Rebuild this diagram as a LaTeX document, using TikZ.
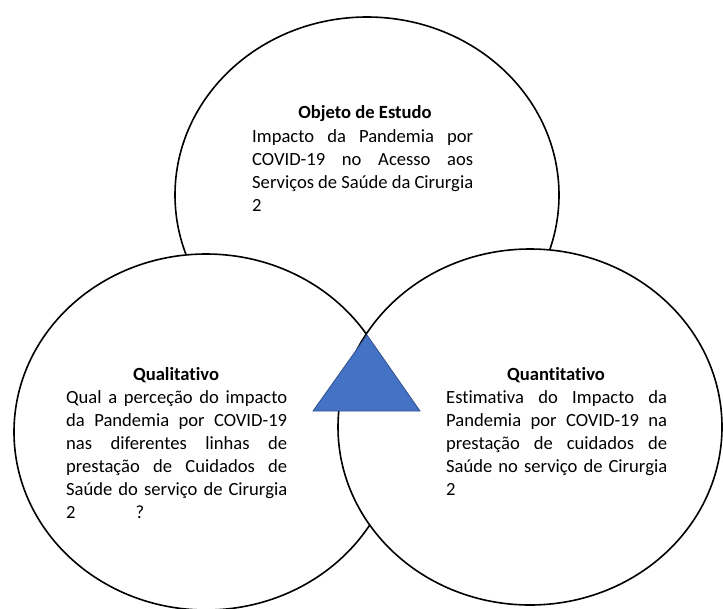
\documentclass[tikz,border=0pt]{standalone}
\usepackage{fontspec}
\setmainfont{Carlito}[Ligatures=NoCommon]
\definecolor{triblue}{HTML}{4472C4}
\definecolor{triedge}{HTML}{2F528F}
\begin{document}
\begin{tikzpicture}[x=1pt,y=-1pt,
    circ/.style={draw=black, fill=white, line width=1.6pt},
    head/.style={anchor=base, inner sep=0pt, font=\fontsize{18.6}{23}\selectfont\bfseries},
    body/.style={anchor=base west, inner sep=0pt, text width=221pt, align=justify,
                 font=\fontsize{18.6}{23}\selectfont}]
    \useasboundingbox (0,0) rectangle (723,608);

    % 1) The three circles, the lower two on top of the upper one
    \draw[circ] (367,195) ellipse [x radius=192pt, y radius=178pt];
    \draw[circ] (206,432) ellipse [x radius=192pt, y radius=178pt];
    \draw[circ] (530,427) ellipse [x radius=192pt, y radius=178pt];

    % 2) Blue triangle where the circles meet
    \coordinate (apex) at (367,335);
    \coordinate (baseL) at (313,411);
    \coordinate (baseR) at (420,411);
    \filldraw[fill=triblue, draw=triedge, line width=0.8pt] (apex) -- (baseL) -- (baseR) -- cycle;

    % 3) Texts of the upper circle
    \node[head] (estudo) at (365,118) {Objeto de Estudo};
    \node[body] (estudotxt) at (252,142)
      {Impacto da Pandemia por\linebreak COVID-19 no Acesso aos\linebreak
       Serviços de Saúde da Cirurgia\linebreak 2};

    % 4) Texts of the left circle
    \node[head] (quali) at (176,380) {Qualitativo};
    \node[body] (qualitxt) at (66,403)
      {Qual a perceção do impacto\linebreak da Pandemia por COVID-19\linebreak
       nas diferentes linhas de\linebreak prestação de Cuidados de\linebreak
       Saúde do serviço de Cirurgia\linebreak 2\hspace{60pt}?};

    % 5) Texts of the right circle
    \node[head] (quanti) at (556,380) {Quantitativo};
    \node[body] (quantitxt) at (446,403)
      {Estimativa do Impacto da\linebreak Pandemia por COVID-19 na\linebreak
       prestação de cuidados de\linebreak Saúde no serviço de Cirurgia\linebreak 2};
\end{tikzpicture}
\end{document}
